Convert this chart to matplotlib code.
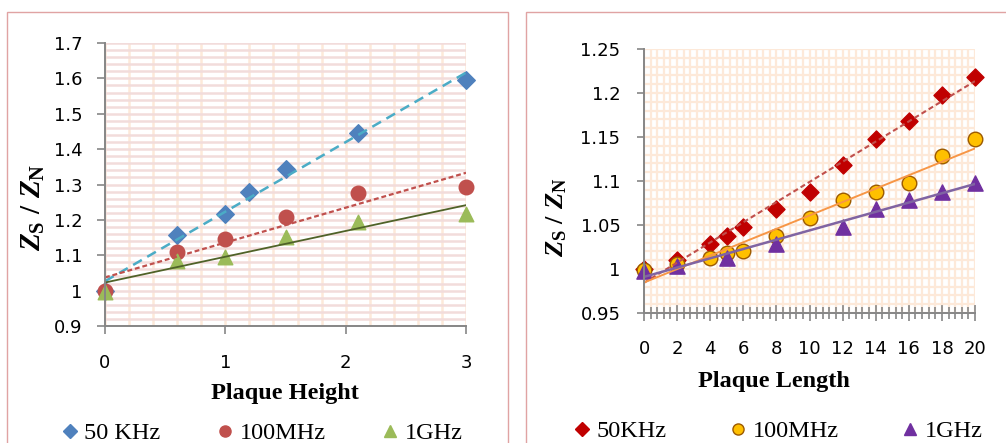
import matplotlib
matplotlib.use("Agg")
import matplotlib.pyplot as plt
from matplotlib.ticker import MultipleLocator, FuncFormatter
from matplotlib.lines import Line2D
from matplotlib.patches import Rectangle
import numpy as np

plt.rcParams['mathtext.fontset'] = 'custom'
plt.rcParams['mathtext.it'] = 'Liberation Serif:italic:bold'
plt.rcParams['mathtext.rm'] = 'Liberation Serif:bold'
plt.rcParams['mathtext.bf'] = 'Liberation Serif:bold'

# --- left chart: plaque height
height = [0, 0.6, 1.0, 1.2, 1.5, 2.1, 3.0]
h_50khz = [1.0, 1.156, 1.216, 1.278, 1.344, 1.445, 1.595]
height_b = [0, 0.6, 1.0, 1.5, 2.1, 3.0]
h_100mhz = [1.0, 1.108, 1.146, 1.209, 1.275, 1.294]
h_1ghz = [0.995, 1.084, 1.094, 1.151, 1.195, 1.216]

# --- right chart: plaque length
length = [0, 2, 4, 5, 6, 8, 10, 12, 14, 16, 18, 20]
l_50khz = [1.0, 1.01, 1.028, 1.038, 1.048, 1.068, 1.088, 1.118, 1.148, 1.168, 1.198, 1.218]
l_100mhz = [0.999, 1.006, 1.013, 1.018, 1.02, 1.038, 1.058, 1.078, 1.088, 1.098, 1.128, 1.148]
length_c = [0, 2, 5, 8, 12, 14, 16, 18, 20]
l_1ghz = [0.998, 1.003, 1.012, 1.028, 1.048, 1.068, 1.078, 1.088, 1.098]

W, H = 1006, 443
fig = plt.figure(figsize=(W / 100, H / 100), dpi=100)


def px(x0, y0, x1, y1):
    return [x0 / W, 1 - y1 / H, (x1 - x0) / W, (y1 - y0) / H]


def trend(ax, x, y, xmax, **kw):
    m, b = np.polyfit(x, y, 1)
    xs = np.array([0, xmax])
    ax.plot(xs, m * xs + b, zorder=5, **kw)


fmt = FuncFormatter(lambda v, p: '{:g}'.format(round(v, 3)))
ylab = r'$Z_{\mathrm{S}}\ /\ Z_{\mathrm{N}}$'
axis_grey = '#868686'

# panel borders
fig.patches.append(Rectangle((7 / W, -0.1), 501 / W, 1.1 - 12 / H, transform=fig.transFigure,
                             fill=False, edgecolor='#E0A3A3', lw=1.0))
fig.patches.append(Rectangle((526 / W, -0.1), 490 / W, 1.1 - 12 / H, transform=fig.transFigure,
                             fill=False, edgecolor='#E0A3A3', lw=1.0))

# ---------- left
ax1 = fig.add_axes(px(105, 43, 466, 326))
ax1.set_xlim(0, 3)
ax1.set_ylim(0.9, 1.7)
ax1.yaxis.set_major_locator(MultipleLocator(0.1))
ax1.yaxis.set_minor_locator(MultipleLocator(0.02))
ax1.xaxis.set_major_locator(MultipleLocator(1))
ax1.xaxis.set_minor_locator(MultipleLocator(0.2))
ax1.yaxis.set_major_formatter(fmt)
ax1.grid(which='both', axis='y', color='#F2DCDB', lw=1.8)
ax1.grid(which='both', axis='x', color='#FDE9D9', lw=1.8)
ax1.set_axisbelow(True)
ax1.scatter(height, h_50khz, marker='D', s=80, color='#4F81BD', zorder=3, clip_on=False)
ax1.scatter(height_b, h_100mhz, marker='o', s=110, color='#C0504D', zorder=3, clip_on=False)
ax1.scatter(height_b, h_1ghz, marker='^', s=110, color='#9BBB59', zorder=3, clip_on=False)
trend(ax1, height, h_50khz, 3, color='#4BACC6', lw=1.8, dashes=(4, 2.5))
trend(ax1, height_b, h_100mhz, 3, color='#C0504D', lw=1.6, dashes=(2.2, 1.3))
trend(ax1, height_b, h_1ghz, 3, color='#4F6228', lw=1.3)
ax1.tick_params(axis='both', which='major', length=6, width=1.2, color=axis_grey,
                labelsize=13, direction='out')
ax1.tick_params(axis='y', pad=10)
ax1.tick_params(axis='x', pad=14)
ax1.tick_params(which='minor', length=0)
for s in ['top', 'right']:
    ax1.spines[s].set_visible(False)
for s in ['left', 'bottom']:
    ax1.spines[s].set_color(axis_grey)
    ax1.spines[s].set_linewidth(1.4)
    ax1.spines[s].set_zorder(6)
fig.text(285 / W, 1 - 393 / H, 'Plaque Height', ha='center', va='center',
         family='Liberation Serif', weight='bold', fontsize=17.5)
fig.text(33 / W, 1 - 207 / H, ylab, rotation=90, ha='center', va='center', fontsize=21)
h1 = [Line2D([], [], ls='none', marker='D', ms=7, color='#4F81BD'),
      Line2D([], [], ls='none', marker='o', ms=8, color='#C0504D'),
      Line2D([], [], ls='none', marker='^', ms=8, color='#9BBB59')]
fig.legend(h1, ['50 KHz', '100MHz', '1GHz'], loc='center', bbox_to_anchor=(262 / W, 1 - 433 / H),
           ncol=3, frameon=False, handlelength=0.7, handletextpad=0.25, columnspacing=2.3,
           prop={'family': 'Liberation Serif', 'size': 17.5}, borderpad=0)

# ---------- right
ax2 = fig.add_axes(px(644, 49, 975, 313))
ax2.set_xlim(0, 20)
ax2.set_ylim(0.95, 1.25)
ax2.yaxis.set_major_locator(MultipleLocator(0.05))
ax2.yaxis.set_minor_locator(MultipleLocator(0.01))
ax2.xaxis.set_major_locator(MultipleLocator(2))
ax2.xaxis.set_minor_locator(MultipleLocator(0.4))
ax2.yaxis.set_major_formatter(fmt)
ax2.grid(which='both', color='#FDE9D9', lw=1.6)
ax2.set_axisbelow(True)
ax2.scatter(length, l_50khz, marker='D', s=75, color='#C00000', zorder=3, clip_on=False)
ax2.scatter(length, l_100mhz, marker='o', s=110, color='#FFC000', edgecolors='#9C5A00',
            linewidths=1.0, zorder=3, clip_on=False)
ax2.scatter(length_c, l_1ghz, marker='^', s=120, color='#7030A0', zorder=3, clip_on=False)
trend(ax2, length, l_50khz, 20, color='#C0504D', lw=1.5, dashes=(2.5, 1.5))
trend(ax2, length, l_100mhz, 20, color='#F79646', lw=1.4)
trend(ax2, length_c, l_1ghz, 20, color='#8064A2', lw=1.8)
ax2.tick_params(axis='y', which='major', length=5, width=1.2, color=axis_grey,
                labelsize=13, direction='out', pad=12)
ax2.tick_params(axis='y', which='minor', length=0)
ax2.tick_params(axis='x', which='major', length=11, width=1.2, color=axis_grey,
                labelsize=13, direction='inout', pad=14)
ax2.tick_params(axis='x', which='minor', length=8, width=1.2, color=axis_grey, direction='inout')
for s in ['top', 'right']:
    ax2.spines[s].set_visible(False)
for s in ['left', 'bottom']:
    ax2.spines[s].set_color(axis_grey)
    ax2.spines[s].set_linewidth(1.4)
    ax2.spines[s].set_zorder(6)
fig.text(774 / W, 1 - 382 / H, 'Plaque Length', ha='center', va='center',
         family='Liberation Serif', weight='bold', fontsize=17.5)
fig.text(556 / W, 1 - 217 / H, ylab, rotation=90, ha='center', va='center', fontsize=19)
h2 = [Line2D([], [], ls='none', marker='D', ms=7, color='#C00000'),
      Line2D([], [], ls='none', marker='o', ms=8, color='#FFC000', markeredgecolor='#9C5A00'),
      Line2D([], [], ls='none', marker='^', ms=8, color='#7030A0')]
fig.legend(h2, ['50KHz', '100MHz', '1GHz'], loc='center', bbox_to_anchor=(778 / W, 1 - 431 / H),
           ncol=3, frameon=False, handlelength=0.7, handletextpad=0.25, columnspacing=2.6,
           prop={'family': 'Liberation Serif', 'size': 17.5}, borderpad=0)

fig.savefig('out.png', dpi=100)
